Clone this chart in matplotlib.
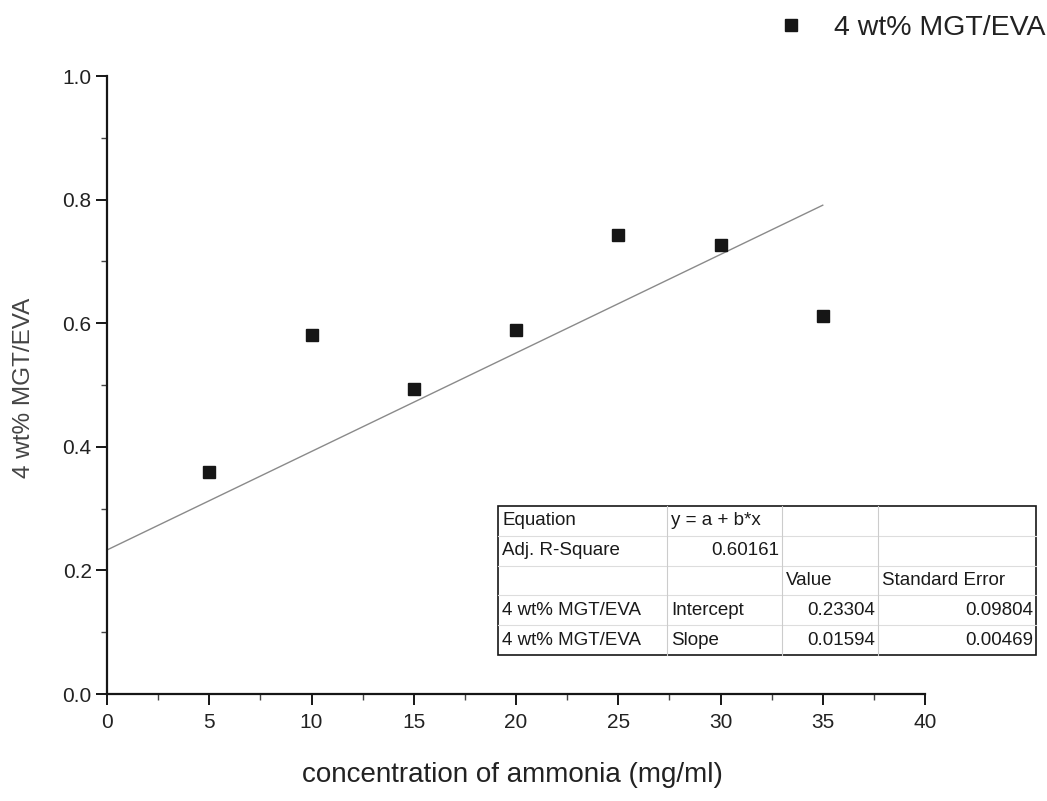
import matplotlib
matplotlib.use("Agg")
import matplotlib.pyplot as plt
import numpy as np
from matplotlib.lines import Line2D

# ---- data ----
conc = [5, 10, 15, 20, 25, 30, 35]
absorb = [0.359, 0.581, 0.494, 0.589, 0.743, 0.727, 0.612]
intercept = 0.23304
slope = 0.01594
fit_x = [0, 35]
series_name = "4 wt% MGT/EVA"
xticks = [0, 5, 10, 15, 20, 25, 30, 35, 40]
yticks = [0.0, 0.2, 0.4, 0.6, 0.8, 1.0]

table_rows = [
    ["Equation", "y = a + b*x", "", ""],
    ["Adj. R-Square", "0.60161", "", ""],
    ["", "", "Value", "Standard Error"],
    ["4 wt% MGT/EVA", "Intercept", "0.23304", "0.09804"],
    ["4 wt% MGT/EVA", "Slope", "0.01594", "0.00469"],
]
table_align = [
    ["left", "left", "left", "left"],
    ["left", "right", "left", "left"],
    ["left", "left", "left", "left"],
    ["left", "left", "right", "right"],
    ["left", "left", "right", "right"],
]

plt.rcParams['font.family'] = ['Liberation Sans', 'DejaVu Sans']

W, H = 1047, 801
fig = plt.figure(figsize=(W / 100, H / 100), dpi=100)
ax = fig.add_axes([107 / W, 1 - 694 / H, (925 - 107) / W, (694 - 76) / H])

ink = '#161616'
ax.plot(fit_x, [intercept + slope * x for x in fit_x], color='#8a8a8a', lw=1.0, zorder=2)
ax.plot(conc, absorb, ls='none', marker='s', ms=8.5, color=ink, zorder=3, label=series_name)

ax.set_xlim(0, 40)
ax.set_ylim(0, 1.0)
ax.set_xticks(xticks)
ax.set_yticks(yticks)
ax.set_xticklabels([str(t) for t in xticks])
ax.set_yticklabels([f"{t:.1f}" for t in yticks])
ax.set_xticks(np.arange(2.5, 40, 5), minor=True)
ax.set_yticks(np.arange(0.1, 1.0, 0.2), minor=True)
for s in ['top', 'right']:
    ax.spines[s].set_visible(False)
for s in ['left', 'bottom']:
    ax.spines[s].set_color(ink)
    ax.spines[s].set_linewidth(1.6)
ax.tick_params(which='major', direction='out', length=8, width=1.4, color=ink,
               labelsize=15, labelcolor='#222222', pad=3)
ax.tick_params(which='minor', direction='out', length=4, width=1.0, color='#444444')
ax.tick_params(axis='x', which='major', pad=6)
ax.patch.set_alpha(0)

fig.text(512 / W, 1 - 775 / H, "concentration of ammonia (mg/ml)", ha='center', va='center',
         fontsize=20, color='#222222')
fig.text(24 / W, 1 - 388 / H, series_name, ha='center', va='center', rotation=90,
         fontsize=17.5, color='#444444')

# legend
fig.legend(handles=[Line2D([], [], ls='none', marker='s', ms=8.5, color=ink)],
           labels=[series_name], loc='center right', bbox_to_anchor=(1045 / W, 1 - 28 / H),
           frameon=False, fontsize=20.5, handlelength=1.0, handletextpad=0.98,
           borderpad=0, borderaxespad=0, labelcolor='#222222')

# table
tx0, tx1 = 498, 1036
ty0, ty1 = 506, 655
col_edges = [498, 667, 782, 878, 1036]
nrows = len(table_rows)
tax = fig.add_axes([0, 0, 1, 1])
tax.set_xlim(0, W)
tax.set_ylim(H, 0)
tax.axis('off')
tax.patch.set_alpha(0)
rh = (ty1 - ty0) / nrows
for r in range(1, nrows):
    y = ty0 + r * rh
    tax.plot([tx0, tx1], [y, y], color='#dddddd', lw=0.8)
for c in col_edges[1:-1]:
    tax.plot([c, c], [ty0, ty1], color='#cccccc', lw=0.8)
tax.add_patch(plt.Rectangle((tx0, ty0), tx1 - tx0, ty1 - ty0, fill=False, ec=ink, lw=1.2))
for r, row in enumerate(table_rows):
    yc = ty0 + (r + 0.5) * rh
    for c, txt in enumerate(row):
        if not txt:
            continue
        al = table_align[r][c]
        x = col_edges[c] + 4 if al == 'left' else col_edges[c + 1] - 3
        tax.text(x, yc, txt, ha=al, va='center', fontsize=13.5, color='#1a1a1a')

fig.savefig("out.png", dpi=100)
